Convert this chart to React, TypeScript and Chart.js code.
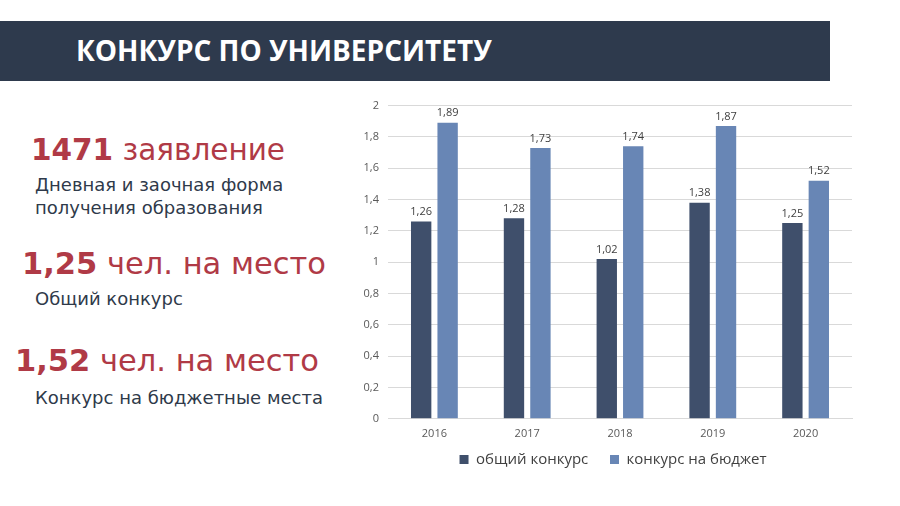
import React, { useRef, useEffect } from 'react';
import Chart from 'chart.js/auto';

const years = ['2016', '2017', '2018', '2019', '2020'];
const overall = [1.26, 1.28, 1.02, 1.38, 1.25];
const budget = [1.89, 1.73, 1.74, 1.87, 1.52];
const seriesNames = ['общий конкурс', 'конкурс на бюджет'];
const seriesColors = ['#3f4f6b', '#6886b5'];

const comma = (v: number) => Number(v.toFixed(2)).toString().replace('.', ',');

const valueLabels = {
    id: 'valueLabels',
    afterDatasetsDraw(chart: any) {
        const ctx = chart.ctx;
        ctx.save();
        ctx.font = '11px "Open Sans"';
        ctx.fillStyle = '#404040';
        ctx.textAlign = 'center';
        ctx.textBaseline = 'bottom';
        chart.data.datasets.forEach((ds: any, i: number) => {
            chart.getDatasetMeta(i).data.forEach((bar: any, j: number) => {
                ctx.fillText(comma(ds.data[j]), bar.x, bar.y - 4);
            });
        });
        ctx.restore();
    },
};

// the legend in the picture sits centred under the plot, not under the whole canvas
const legendShift = {
    id: 'legendShift',
    afterLayout(chart: any) {
        if (chart.legend) {
            chart.legend.left += 13;
            chart.legend.right += 13;
        }
    },
};

const BarChart: React.FC = () => {
    const chartRef = useRef<HTMLCanvasElement>(null);
    const chartInstanceRef = useRef<Chart | null>(null);

    useEffect(() => {
        if (!chartRef.current) return;
        const ctx = chartRef.current.getContext('2d');
        if (!ctx) return;
        chartInstanceRef.current = new Chart(ctx, {
            type: 'bar',
            data: {
                labels: years,
                datasets: [
                    // trailing spaces only widen the gap between the two legend items
                    { label: seriesNames[0] + '   ', data: overall, backgroundColor: seriesColors[0] },
                    { label: seriesNames[1], data: budget, backgroundColor: seriesColors[1] },
                ],
            },
            options: {
                responsive: false,
                animation: false,
                layout: { padding: { left: 8, right: 18, top: 14, bottom: 4 } },
                datasets: {
                    bar: { categoryPercentage: 0.57, barPercentage: 0.77 },
                },
                plugins: {
                    legend: {
                        position: 'bottom',
                        labels: {
                            boxWidth: 9,
                            boxHeight: 9,
                            padding: 10,
                            color: '#404040',
                            font: { family: 'Open Sans', size: 15 },
                        },
                    },
                    tooltip: { enabled: false },
                },
                scales: {
                    x: {
                        afterFit: (scale: any) => { scale.height = scale.height - 6; },
                        grid: { display: false, drawTicks: false },
                        border: { color: '#d9d9d9' },
                        ticks: { color: '#595959', padding: 8, font: { family: 'Open Sans', size: 11 } },
                    },
                    y: {
                        min: 0,
                        max: 2,
                        afterFit: (scale: any) => { scale.width = 40; },
                        grid: { color: '#d9d9d9', drawTicks: false },
                        border: { display: false },
                        ticks: {
                            stepSize: 0.2,
                            padding: 9,
                            color: '#595959',
                            font: { family: 'Open Sans', size: 11 },
                            callback: (v: any) => Number(Number(v).toFixed(1)).toString().replace('.', ','),
                        },
                    },
                },
            },
            plugins: [valueLabels, legendShift],
        });
        return () => {
            chartInstanceRef.current?.destroy();
        };
    }, []);

    return <canvas ref={chartRef} width={530} height={391} style={{ position: 'absolute', left: 340, top: 90 }} />;
};

const red = '#b03a46';
const slate = '#2f3a4a';
const face = '"DejaVu Sans", sans-serif';

const line = (top: number, left: number, size: number, color: string): React.CSSProperties => ({
    position: 'absolute', top, left, fontSize: size, lineHeight: 1, color, fontFamily: face, whiteSpace: 'nowrap',
});

const App: React.FC = () => (
    <div style={{ position: 'fixed', left: 0, top: 0, width: 900, height: 506, background: '#fff', overflow: 'hidden' }}>
        <div style={{ position: 'absolute', left: 0, top: 21, width: 830, height: 60, background: '#2e3a4d' }}>
            <div style={{ position: 'absolute', left: 76, top: 14, fontFamily: '"Open Sans", sans-serif', fontWeight: 700, fontSize: 28, lineHeight: 1.1, color: '#fff', whiteSpace: 'nowrap' }}>
                КОНКУРС ПО УНИВЕРСИТЕТУ
            </div>
        </div>
        <div style={line(136, 31, 29.5, red)}><b>1471</b> заявление</div>
        <div style={line(176, 35, 18, slate)}>Дневная и заочная форма</div>
        <div style={line(199, 35, 18, slate)}>получения образования</div>
        <div style={line(249, 22, 30.5, red)}><b>1,25</b> чел. на место</div>
        <div style={line(290, 35, 18, slate)}>Общий конкурс</div>
        <div style={line(346, 15, 30.5, red)}><b>1,52</b> чел. на место</div>
        <div style={line(389, 35, 18, slate)}>Конкурс на бюджетные места</div>
        <BarChart />
    </div>
);

export default App;
